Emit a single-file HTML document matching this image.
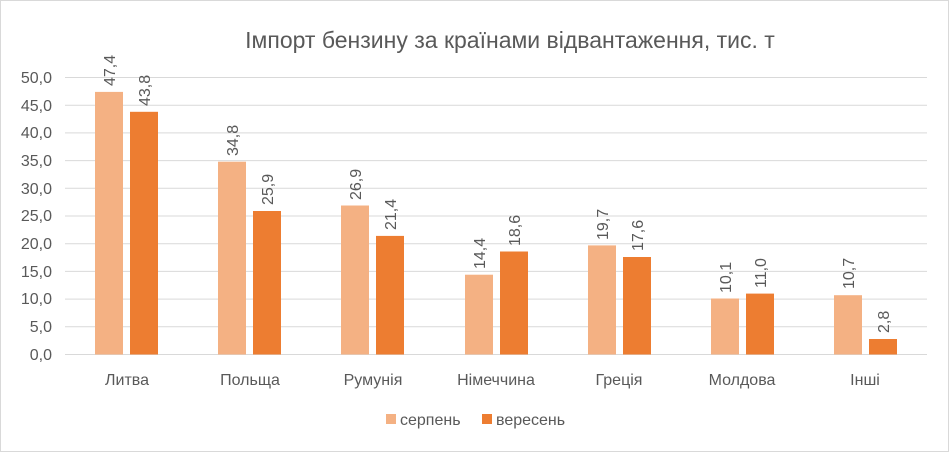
<!DOCTYPE html><html><head><meta charset="utf-8"><style>body{margin:0;background:#fff}svg{display:block}text{font-family:"Liberation Sans",sans-serif;fill:#595959}</style></head><body>
<svg width="949" height="452" viewBox="0 0 949 452">
<rect x="0.5" y="0.5" width="948" height="451" fill="#fff" stroke="#d9d9d9"/>
<text x="510" y="48" font-size="23" text-anchor="middle">Імпорт бензину за країнами відвантаження, тис. т</text>
<g stroke="#d9d9d9" stroke-width="1">
<line x1="65" x2="927" y1="77.5" y2="77.5"/><line x1="65" x2="927" y1="105.2" y2="105.2"/><line x1="65" x2="927" y1="132.9" y2="132.9"/><line x1="65" x2="927" y1="160.6" y2="160.6"/><line x1="65" x2="927" y1="188.3" y2="188.3"/><line x1="65" x2="927" y1="216" y2="216"/><line x1="65" x2="927" y1="243.7" y2="243.7"/><line x1="65" x2="927" y1="271.4" y2="271.4"/><line x1="65" x2="927" y1="299.1" y2="299.1"/><line x1="65" x2="927" y1="326.8" y2="326.8"/><line x1="65" x2="927" y1="354.5" y2="354.5"/>
</g>
<g font-size="16" text-anchor="end">
<text x="52" y="83">50,0</text><text x="52" y="111">45,0</text><text x="52" y="138">40,0</text><text x="52" y="166">35,0</text><text x="52" y="194">30,0</text><text x="52" y="221">25,0</text><text x="52" y="249">20,0</text><text x="52" y="277">15,0</text><text x="52" y="304">10,0</text><text x="52" y="332">5,0</text><text x="52" y="360">0,0</text>
</g>
<g fill="#F4B183">
<rect x="95" y="91.9" width="28" height="262.6"/>
<rect x="218" y="161.7" width="28" height="192.8"/>
<rect x="341" y="205.5" width="28" height="149"/>
<rect x="465" y="274.7" width="28" height="79.8"/>
<rect x="588" y="245.4" width="28" height="109.1"/>
<rect x="711" y="298.5" width="28" height="56"/>
<rect x="834" y="295.2" width="28" height="59.3"/>
</g>
<g fill="#ED7D31">
<rect x="130" y="111.8" width="28" height="242.7"/>
<rect x="253" y="211" width="28" height="143.5"/>
<rect x="376" y="235.9" width="28" height="118.6"/>
<rect x="500" y="251.5" width="28" height="103"/>
<rect x="623" y="257" width="28" height="97.5"/>
<rect x="746" y="293.6" width="28" height="60.9"/>
<rect x="869" y="339" width="28" height="15.5"/>
</g>
<g font-size="16">
<text transform="translate(115,86) rotate(-90)">47,4</text>
<text transform="translate(150,106) rotate(-90)">43,8</text>
<text transform="translate(238,156) rotate(-90)">34,8</text>
<text transform="translate(273,205) rotate(-90)">25,9</text>
<text transform="translate(361,200) rotate(-90)">26,9</text>
<text transform="translate(396,230) rotate(-90)">21,4</text>
<text transform="translate(485,269) rotate(-90)">14,4</text>
<text transform="translate(520,246) rotate(-90)">18,6</text>
<text transform="translate(608,240) rotate(-90)">19,7</text>
<text transform="translate(643,251) rotate(-90)">17,6</text>
<text transform="translate(731,293) rotate(-90)">10,1</text>
<text transform="translate(766,288) rotate(-90)">11,0</text>
<text transform="translate(854,289) rotate(-90)">10,7</text>
<text transform="translate(889,333) rotate(-90)">2,8</text>
</g>
<g font-size="16" text-anchor="middle">
<text x="127" y="385">Литва</text><text x="250" y="385">Польща</text><text x="373" y="385">Румунія</text><text x="496" y="385">Німеччина</text><text x="619" y="385">Греція</text><text x="742" y="385">Молдова</text><text x="865" y="385">Інші</text>
</g>
<rect x="386" y="414" width="10" height="10" fill="#F4B183"/><text x="400" y="425" font-size="16">серпень</text>
<rect x="482" y="414" width="10" height="10" fill="#ED7D31"/><text x="496" y="425" font-size="16">вересень</text>
</svg></body></html>
